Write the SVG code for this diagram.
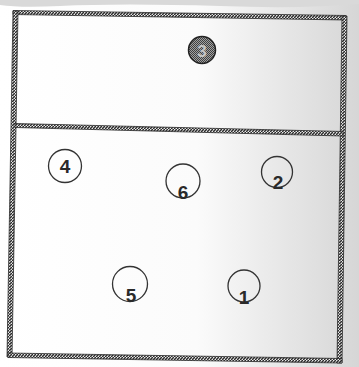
<svg xmlns="http://www.w3.org/2000/svg" width="359" height="367" viewBox="0 0 359 367">
  <defs>
    <linearGradient id="paper" x1="0" y1="0" x2="1" y2="0">
      <stop offset="0" stop-color="#ffffff"/>
      <stop offset="0.55" stop-color="#fbfbfb"/>
      <stop offset="0.8" stop-color="#e6e6e6"/>
      <stop offset="1" stop-color="#d6d6d6"/>
    </linearGradient>
    <pattern id="hatch" patternUnits="userSpaceOnUse" width="3" height="3">
      <rect width="3" height="3" fill="#e8e8e8"/>
      <path d="M-1,4 L4,-1" stroke="#2a2a2a" stroke-width="1.5"/>
    </pattern>
    <pattern id="check" patternUnits="userSpaceOnUse" width="2" height="2">
      <rect width="2" height="2" fill="#a0a0a0"/>
      <rect width="1" height="1" fill="#404040"/>
      <rect x="1" y="1" width="1" height="1" fill="#404040"/>
    </pattern>
    <style>
      .band { fill: url(#hatch); stroke: #2a2a2a; stroke-width: 0.8; }
      .pos circle { fill: none; stroke: #333; stroke-width: 1.3; }
      .pos text { font-family: "Liberation Sans", Arial, sans-serif; font-size: 19px; font-weight: bold; fill: #2a2a2a; text-anchor: middle; }
    </style>
  </defs>
  <rect width="359" height="367" fill="url(#paper)"/>
  <path d="M0,0 L359,0 L359,4 Q300,9 220,6 Q120,3 60,6 Q20,8 0,5 Z" fill="#d9d9d9"/>

  <g id="frame">
    <polygon class="band" points="13,10.5 346,15.5 346,20 13,14.5"/>
    <polygon class="band" points="342,16 347,16 342,363 337,363"/>
    <polygon class="band" points="13,11 18,11 12,357 7,357"/>
    <polygon class="band" points="8,353 342,358.5 342,363 8,357.5"/>
    <polygon class="band" points="15,123.5 343,131.5 343,136 15,127.5"/>
  </g>

  <g id="p3" class="pos">
    <circle cx="202" cy="50" r="13.5" style="fill:url(#check);stroke:#222;stroke-width:1.5"/>
    <text x="202" y="56.5" style="fill:#c4c4c4;font-size:17px">3</text>
  </g>
  <g id="p4" class="pos">
    <circle cx="65" cy="166" r="16.5"/>
    <text x="65" y="173">4</text>
  </g>
  <g id="p6" class="pos">
    <circle cx="183" cy="181" r="17"/>
    <text x="183" y="199">6</text>
  </g>
  <g id="p2" class="pos">
    <circle cx="277" cy="172" r="15.5"/>
    <text x="278" y="189">2</text>
  </g>
  <g id="p5" class="pos">
    <circle cx="130" cy="284" r="17.5"/>
    <text x="131" y="302">5</text>
  </g>
  <g id="p1" class="pos">
    <circle cx="244" cy="286" r="16"/>
    <text x="244" y="304">1</text>
  </g>
  <g id="connectors"/>
</svg>
